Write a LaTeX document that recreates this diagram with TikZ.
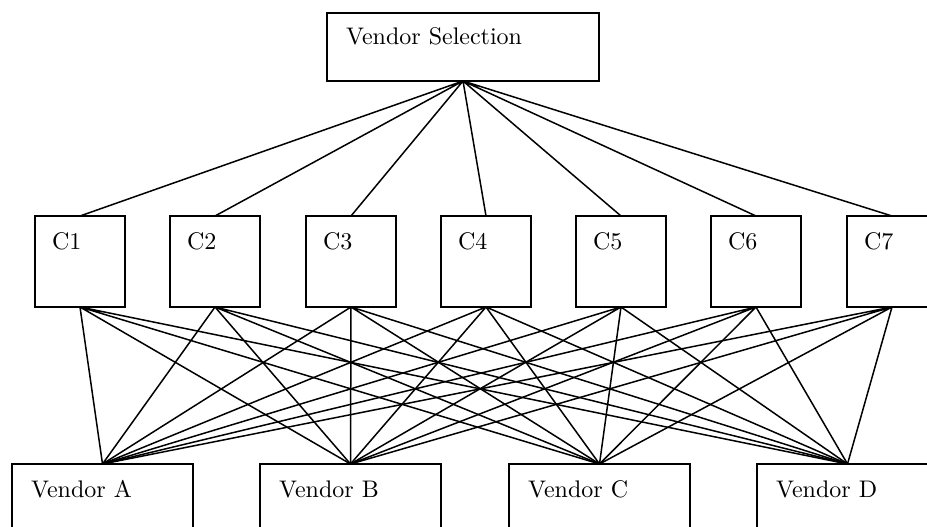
\documentclass[tikz,border=0pt]{standalone}
\usepackage{fontspec}
\setmainfont{lmroman10-regular.otf}

\tikzset{
  box/.style={draw, line width=1.6pt, anchor=north west, align=left,
    inner ysep=0pt, outer sep=0pt, font=\fontsize{24}{28}\selectfont},
  goalbox/.style={box, inner xsep=19pt, text width=234pt, text height=32pt, text depth=36pt},
  critbox/.style={box, inner xsep=17pt, text width=56pt, text height=33pt, text depth=58pt},
  vendbox/.style={box, inner xsep=19pt, text width=143pt, text height=33pt, text depth=70pt},
  link/.style={line width=1.5pt},
}

\begin{document}
\begin{tikzpicture}[x=1pt,y=-1pt]

  \useasboundingbox (0,0) rectangle (927,527);
  \clip (0,0) rectangle (927,527);

  % Goal
  \node[goalbox] (VS) at (327,13) {Vendor Selection};

  % Criteria
  \node[critbox] (C1) at (35,216) {C1};
  \node[critbox] (C2) at (170,216) {C2};
  \node[critbox] (C3) at (306,216) {C3};
  \node[critbox] (C4) at (441,216) {C4};
  \node[critbox] (C5) at (576,216) {C5};
  \node[critbox] (C6) at (711,216) {C6};
  \node[critbox] (C7) at (847,216) {C7};

  % Alternatives
  \node[vendbox] (VA) at (12,464) {Vendor A};
  \node[vendbox] (VB) at (260,464) {Vendor B};
  \node[vendbox] (VC) at (509,464) {Vendor C};
  \node[vendbox] (VD) at (757,464) {Vendor D};

  % Goal to criteria
  \draw[link] (VS.south) -- (C1.north) (VS.south) -- (C2.north) (VS.south) -- (C3.north)
    (VS.south) -- (C4.north) (VS.south) -- (C5.north) (VS.south) -- (C6.north) (VS.south) -- (C7.north);

  % Criteria to vendors
  \draw[link] (C1.south) -- (VA.north) (C1.south) -- (VB.north) (C1.south) -- (VC.north) (C1.south) -- (VD.north);
  \draw[link] (C2.south) -- (VA.north) (C2.south) -- (VB.north) (C2.south) -- (VC.north) (C2.south) -- (VD.north);
  \draw[link] (C3.south) -- (VA.north) (C3.south) -- (VB.north) (C3.south) -- (VC.north) (C3.south) -- (VD.north);
  \draw[link] (C4.south) -- (VA.north) (C4.south) -- (VB.north) (C4.south) -- (VC.north) (C4.south) -- (VD.north);
  \draw[link] (C5.south) -- (VA.north) (C5.south) -- (VB.north) (C5.south) -- (VC.north) (C5.south) -- (VD.north);
  \draw[link] (C6.south) -- (VA.north) (C6.south) -- (VB.north) (C6.south) -- (VC.north) (C6.south) -- (VD.north);
  \draw[link] (C7.south) -- (VA.north) (C7.south) -- (VB.north) (C7.south) -- (VC.north) (C7.south) -- (VD.north);

\end{tikzpicture}
\end{document}
